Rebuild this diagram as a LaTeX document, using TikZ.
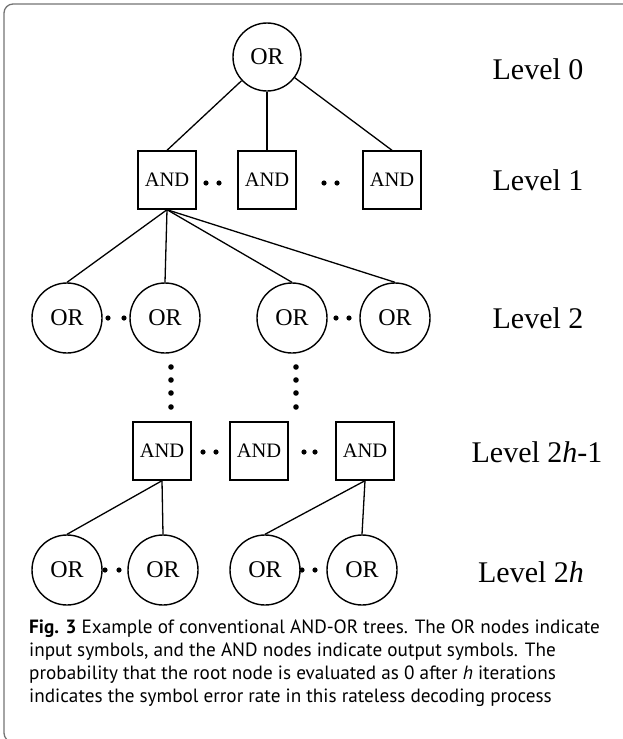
\documentclass[tikz,border=0pt]{standalone}
\usepackage{fontspec}
\setmainfont{Liberation Serif}
\newfontfamily\capfont{PT Sans}
\begin{document}
\begin{tikzpicture}[x=1pt,y=-1pt,
  ornode/.style={draw,circle,line width=1.4pt,minimum size=70pt,inner sep=0pt,font=\fontsize{24}{24}\selectfont},
  andnode/.style={draw,rectangle,line width=1.4pt,minimum size=58pt,inner sep=0pt,font=\fontsize{20.5}{20.5}\selectfont},
  lvl/.style={font=\fontsize{30}{30}\selectfont},
  link/.style={line width=1.3pt}]
\useasboundingbox (0,0) rectangle (623,739);
\clip (0,0) rectangle (623,739);
\draw [black!55,line width=1.3pt,rounded corners=9pt] (4,4) rectangle (650,742);

% level 0
\node [ornode,minimum size=68pt] (root) at (267,57) {OR};
\node [lvl] (lv0) at (538,69) {Level 0};

% level 1
\node [andnode] (a1) at (167,180) {AND};
\node [andnode] (a2) at (267,180) {AND};
\node [andnode] (a3) at (392,180) {AND};
\node [lvl] (lv1) at (538,180) {Level 1};
\draw [link] (root) -- (a1.north);
\draw [link] (root) -- (a2.north);
\draw [link] (root) -- (a3.north);
\fill (206,183) circle (2.6) (219,183) circle (2.6);
\fill (324,183) circle (2.6) (337,183) circle (2.6);

% level 2
\node [ornode] (o1) at (67,318) {OR};
\node [ornode] (o2) at (165,318) {OR};
\node [ornode] (o3) at (292,318) {OR};
\node [ornode] (o4) at (395,318) {OR};
\node [lvl] (lv2) at (538,318) {Level 2};
\draw [link] (a1.south) -- (o1.north);
\draw [link] (a1.south) -- (o2.north);
\draw [link] (a1.south) -- (o3.north);
\draw [link] (a1.south) -- (o4.north);
\fill (108,318) circle (2.6) (124,318) circle (2.6);
\fill (336,318) circle (2.6) (349,318) circle (2.6);

% skipped levels
\foreach \y in {367,380,393,407} {
  \fill (171,\y) circle (2.8);
  \fill (296,\y) circle (2.8);
}

% level 2h-1
\node [andnode] (b1) at (162,451) {AND};
\node [andnode] (b2) at (259,451) {AND};
\node [andnode] (b3) at (365,451) {AND};
\node [lvl] (lv3) at (537,452) {Level 2\textit{h}-1};
\fill (203,452) circle (2.6) (216,452) circle (2.6);
\fill (304,452) circle (2.6) (315,452) circle (2.6);

% level 2h
\node [ornode] (p1) at (67,570) {OR};
\node [ornode] (p2) at (163,570) {OR};
\node [ornode] (p3) at (265,570) {OR};
\node [ornode] (p4) at (362,570) {OR};
\node [lvl] (lv4) at (531,572) {Level 2\textit{h}};
\draw [link] (b1.south) -- (p1.north);
\draw [link] (b1.south) -- (p2.north);
\draw [link] (b3.south) -- (p3.north);
\draw [link] (b3.south) -- (p4.north);
\fill (105,570) circle (2.6) (119,570) circle (2.6);
\fill (302,570) circle (2.6) (315,570) circle (2.6);

% caption
\node [anchor=north west,align=left,inner sep=0pt,
       font=\capfont\fontsize{19.2}{23}\selectfont] (cap) at (29,620)
  {\textbf{Fig. 3} Example of conventional AND-OR trees. The OR nodes indicate\\
   input symbols, and the AND nodes indicate output symbols. The\\
   probability that the root node is evaluated as 0 after \textit{h} iterations\\
   indicates the symbol error rate in this rateless decoding process};
\end{tikzpicture}
\end{document}
